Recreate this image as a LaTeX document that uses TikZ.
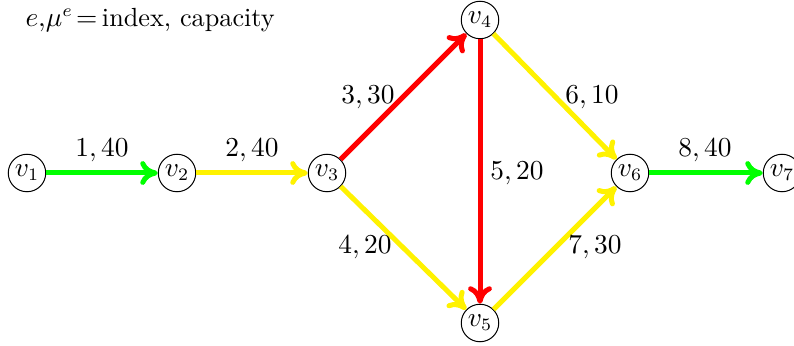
\documentclass[tikz,border=0pt]{standalone}
\usepackage{tikz}
\usetikzlibrary{arrows.meta}
\tikzset{
  vtx/.style={draw,circle,inner sep=0.8pt,minimum size=15pt,font=\fontsize{10.5}{12}\selectfont},
  flow/.style={line width=2pt,-{To[length=7pt,width=9.5pt,round]}},
  lbl/.style={font=\fontsize{10.5}{12}\selectfont},
}
\begin{document}
\begin{tikzpicture}[x=0.4pt,y=-0.4pt]
  \useasboundingbox (0,0) rectangle (794,346);
  % legend
  \node[lbl,anchor=west,inner sep=0pt] (key) at (25,20) {$e,\!\mu^e\!=\,$index, capacity};
  % vertices
  \node[vtx] (v1) at (27,173) {$v_1$};
  \node[vtx] (v2) at (177,173) {$v_2$};
  \node[vtx] (v3) at (327,173) {$v_3$};
  \node[vtx] (v4) at (480,20) {$v_4$};
  \node[vtx] (v5) at (480,323) {$v_5$};
  \node[vtx] (v6) at (630,173) {$v_6$};
  \node[vtx] (v7) at (782,173) {$v_7$};
  % edges
  \draw[flow,draw=green] (v1) -- (v2);
  \draw[flow,draw=yellow] (v2) -- (v3);
  \draw[flow,draw=red] (v3) -- (v4);
  \draw[flow,draw=yellow] (v3) -- (v5);
  \draw[flow,draw=red] (v4) -- (v5);
  \draw[flow,draw=yellow] (v4) -- (v6);
  \draw[flow,draw=yellow] (v5) -- (v6);
  \draw[flow,draw=green] (v6) -- (v7);
  % labels
  \node[lbl] (l1) at (102,150) {$1,40$};
  \node[lbl] (l2) at (252,150) {$2,40$};
  \node[lbl] (l3) at (368,97) {$3,30$};
  \node[lbl] (l4) at (365,247) {$4,20$};
  \node[lbl] (l5) at (517,173) {$5,20$};
  \node[lbl] (l6) at (592,97) {$6,10$};
  \node[lbl] (l7) at (595,247) {$7,30$};
  \node[lbl] (l8) at (705,150) {$8,40$};
\end{tikzpicture}
\end{document}
